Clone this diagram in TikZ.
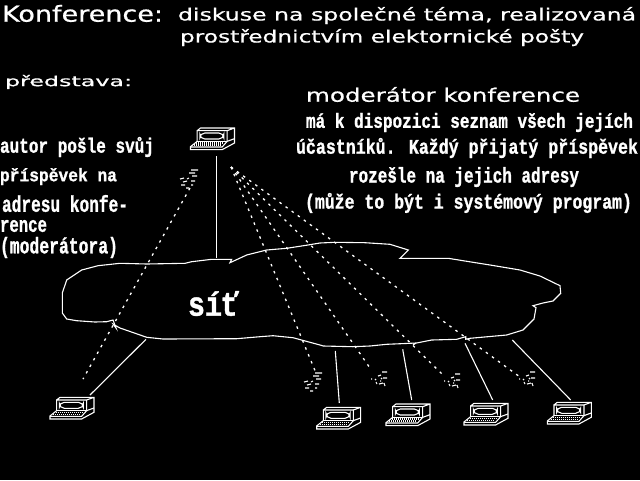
\documentclass[tikz,border=0pt]{standalone}
\usepackage{graphicx}
\usepackage{fontspec}
\setmainfont[FakeBold=0.6]{DejaVu Sans}
\newfontfamily\slabfont[FakeBold=1.2]{Liberation Mono Bold}
\newcommand{\fitbox}[3]{\resizebox*{#1pt}{#2pt}{#3}}
\tikzset{
  x=1pt,y=-1pt,
  every path/.style={line width=1.1pt,white,line join=miter},
  wide/.style={inner sep=0pt,outer sep=0pt,anchor=north west,text=white},
  heavy/.style={inner sep=0pt,outer sep=0pt,anchor=north west,text=white,font=\slabfont},
  wire/.style={draw=white,line width=1.1pt},
  dotwire/.style={draw=white,line width=1.3pt,dash pattern=on 2.5pt off 5pt},
  computer/.pic={
    \begin{scope}[scale=.3333]
      \draw (20,8)--(30,0)--(132,0)--(132,45)--(95,65)--(0,65)--(0,56)--(20,40)--(20,8)--(110,8)--(132,0);
      \draw (110,8)--(110,40)--(95,57)--(0,57);
      \draw (20,40)--(110,40);
      \draw (110,40)--(132,32);
      \draw[rounded corners=5pt] (28,15) rectangle (100,33);
      \draw[line width=1.1pt,dash pattern=on 1pt off 1pt] (17,45)--(97,45);
      \draw[line width=1.1pt,dash pattern=on 1pt off 1pt] (10,51)--(92,51);
    \end{scope}
  },
  burst/.pic={
    \draw (2,-8)--(7,-8) (-2,-4)--(1,-5) (3,-2)--(7,-2) (-9,-1)--(-8,-1)
      (-5,-1)--(-4,0) (-4,2)--(-3,4) (0,1)--(1,1) (-1,4)--(3,3) (4,3)--(5,6) (1,-2)--(2,-1);
  },
  burstb/.pic={
    \draw (-5,-8)--(2,-8) (-7,-5)--(-1,-5) (-4,-2)--(1,-2) (-16,1)--(-12,0) (-9,1)--(-7,0) (-5,3)--(-1,3)
      (-13,4)--(-9,3) (-15,7)--(-11,7) (-5,7)--(-3,7) (-10,10)--(-7,10);
  }
}
\begin{document}
\begin{tikzpicture}
\useasboundingbox (0,0) rectangle (640,480);
\fill[black] (0,0) rectangle (640,480);

% text
\node[wide] (t1) at (2,5) {\fitbox{161}{17}{Konference:}};
\node[wide] (t2) at (178,7) {\fitbox{458}{17}{diskuse na společné téma, realizovaná}};
\node[wide] (t3) at (180,29) {\fitbox{404}{17}{prostřednictvím elektornické pošty}};
\node[wide] (t4) at (5,75) {\fitbox{127}{14}{představa:}};
\node[wide] (t5) at (306,87) {\fitbox{274}{15}{moderátor konference}};
\node[heavy] (a1) at (0,137) {\fitbox{154}{20}{autor pošle svůj}};
\node[heavy] (a2) at (0,168) {\fitbox{117}{17}{příspěvek na}};
\node[heavy] (a3) at (2,195) {\fitbox{126}{17}{adresu konfe-}};
\node[heavy] (a4) at (0,220) {\fitbox{47}{12}{rence}};
\node[heavy] (a5) at (0,237) {\fitbox{118}{21}{(moderátora)}};
\node[heavy] (m1) at (306,113) {\fitbox{327}{19}{má k dispozici seznam všech jejích}};
\node[heavy] (m2) at (296,138) {\fitbox{342}{20}{účastníků. Každý přijatý příspěvek}};
\node[heavy] (m3) at (349,167) {\fitbox{230}{20}{rozešle na jejich adresy}};
\node[heavy] (m4) at (305,193) {\fitbox{327}{20}{(může to být i systémový program)}};
\node[heavy] (net) at (188,291) {\fitbox{51}{25}{síť}};

% cloud
\draw (66.7,280)--(81.7,270)--(98,265.7)--(120,263.3)--(146.7,264)--(185,263.3)--(191.7,261.7)--(211.7,259.3)--(231.7,259.3)--(230,262.7)--(246.7,255)--(266.7,250)--(286.7,248.3)--(308,245)--(320,243)--(335,242.3)--(365,242.7)--(390,244.3)--(408.3,250)--(401.7,256.7)--(400,258.3)--(448.3,258.3)--(463,260.7)--(490,265)--(520,270)--(540,276)--(560,285.7)--(560.7,293.3)--(553,301)--(543,303)--(533,305.7)--(536,307.7)--(534,319)--(523,330)--(506.7,335)--(470,338.3)--(465.7,339.3)--(465.7,336.7)--(456.7,339.3)--(431.7,340)--(415,343.3)--(413,345)--(416,343)--(410,343.3)--(386.7,344.3)--(370,346)--(353,346.7)--(323.3,346)--(320,345)--(293,337.7)--(273,335.7)--(260,336.7)--(236.7,338.7)--(163,339)--(146.7,337.3)--(120,328)--(113.3,324.3)--(116,328)--(113,320)--(106.7,321.7)--(95,322)--(76.7,320.7)--(66.7,319)--(62.3,313)--(62.3,293)--cycle;

% computers
\pic at (190.5,128) {computer};
\pic at (50,397.3) {computer};
\pic at (316.7,407.3) {computer};
\pic at (386,404) {computer};
\pic at (464,403.3) {computer};
\pic at (547.3,402.3) {computer};

% connector ends
\coordinate (s0) at (216.7,156); \coordinate (s1) at (216.7,258);
\coordinate (l0) at (146,339.3); \coordinate (l1) at (90,395);
\coordinate (c1a) at (335.3,351); \coordinate (c1b) at (339.3,403);
\coordinate (c2a) at (402.7,349.3); \coordinate (c2b) at (411.7,400);
\coordinate (c3a) at (465,343.3); \coordinate (c3b) at (492.7,400);
\coordinate (c4a) at (512.3,340); \coordinate (c4b) at (570.7,400);
\coordinate (d0) at (190,188); \coordinate (d1) at (83,379);
\coordinate (e0) at (231,167);
\coordinate (e1) at (316,373); \coordinate (e2) at (370,368);
\coordinate (e3) at (443,375); \coordinate (e4) at (520,377);

\draw[wire] (s0)--(s1);
\draw[wire] (l0)--(l1);
\draw[wire] (c1a)--(c1b);
\draw[wire] (c2a)--(c2b);
\draw[wire] (c3a)--(c3b);
\draw[wire] (c4a)--(c4b);
\draw[dotwire] (d0)--(d1);
\draw[dotwire] (e0)--(e1);
\draw[dotwire] (e0)--(e2);
\draw[dotwire] (e0)--(e3);
\draw[dotwire] (e0)--(e4);

% bursts at the ends of the dotted lines
\pic at (196,178) {burstb};
\pic at (320,381) {burstb};
\pic at (380,380) {burst};
\pic at (453,382) {burst};
\pic at (528,380) {burst};
\end{tikzpicture}
\end{document}
